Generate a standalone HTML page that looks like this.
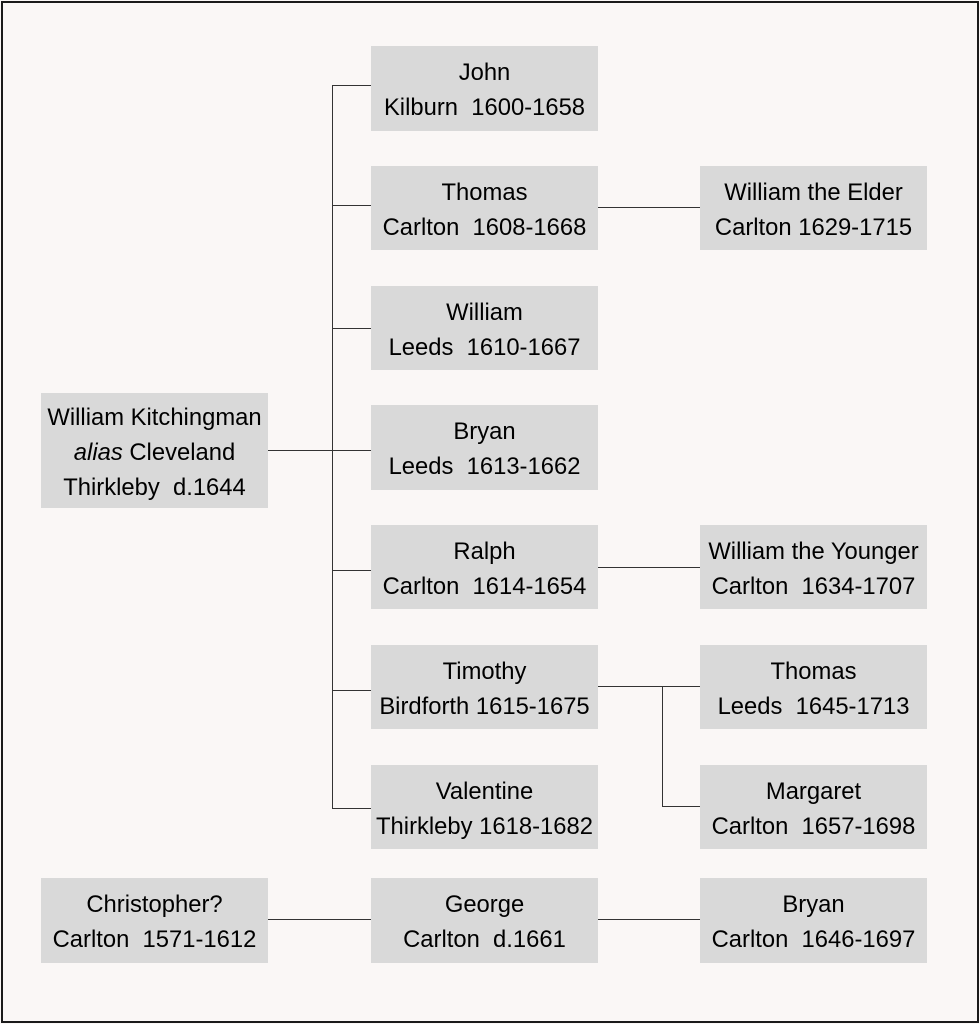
<!DOCTYPE html>
<html><head><style>
html,body{margin:0;padding:0;}
body{width:980px;height:1024px;position:relative;background:#faf7f6;overflow:hidden;font-family:"Liberation Sans",Arial,sans-serif;}
.frame{position:absolute;left:1px;top:1px;width:974px;height:1018px;border:2px solid #1a1a1a;}
.b{position:absolute;background:#d9d9d9;display:flex;flex-direction:column;justify-content:center;align-items:center;font-size:23.8px;line-height:35px;color:#000;white-space:pre;text-align:center;box-sizing:border-box;padding-top:3px;}
.h{position:absolute;height:1px;background:#333;}
.v{position:absolute;width:1px;background:#333;}
</style></head><body>
<div class="frame"></div>
<div class="v" style="left:332px;top:85px;height:724px"></div>
<div class="h" style="left:332px;top:85px;width:39px"></div>
<div class="h" style="left:332px;top:205px;width:39px"></div>
<div class="h" style="left:332px;top:328px;width:39px"></div>
<div class="h" style="left:267px;top:450px;width:104px"></div>
<div class="h" style="left:332px;top:570px;width:39px"></div>
<div class="h" style="left:332px;top:690px;width:39px"></div>
<div class="h" style="left:332px;top:808px;width:39px"></div>
<div class="h" style="left:597px;top:207px;width:103px"></div>
<div class="h" style="left:597px;top:567px;width:103px"></div>
<div class="h" style="left:597px;top:686px;width:103px"></div>
<div class="v" style="left:662px;top:686px;height:121px"></div>
<div class="h" style="left:662px;top:806px;width:38px"></div>
<div class="h" style="left:267px;top:919px;width:104px"></div>
<div class="h" style="left:597px;top:919px;width:103px"></div>

<div class="b" style="left:41px;top:393px;width:227px;height:115px"><div>William Kitchingman</div><div><i>alias</i> Cleveland</div><div>Thirkleby  d.1644</div></div>
<div class="b" style="left:371px;top:46px;width:227px;height:85px"><div>John</div><div>Kilburn  1600-1658</div></div>
<div class="b" style="left:371px;top:166px;width:227px;height:84px"><div>Thomas</div><div>Carlton  1608-1668</div></div>
<div class="b" style="left:371px;top:286px;width:227px;height:84px"><div>William</div><div>Leeds  1610-1667</div></div>
<div class="b" style="left:371px;top:405px;width:227px;height:85px"><div>Bryan</div><div>Leeds  1613-1662</div></div>
<div class="b" style="left:371px;top:525px;width:227px;height:84px"><div>Ralph</div><div>Carlton  1614-1654</div></div>
<div class="b" style="left:371px;top:645px;width:227px;height:84px"><div>Timothy</div><div>Birdforth 1615-1675</div></div>
<div class="b" style="left:371px;top:765px;width:227px;height:84px"><div>Valentine</div><div>Thirkleby 1618-1682</div></div>
<div class="b" style="left:700px;top:166px;width:227px;height:84px"><div>William the Elder</div><div>Carlton 1629-1715</div></div>
<div class="b" style="left:700px;top:525px;width:227px;height:84px"><div>William the Younger</div><div>Carlton  1634-1707</div></div>
<div class="b" style="left:700px;top:645px;width:227px;height:84px"><div>Thomas</div><div>Leeds  1645-1713</div></div>
<div class="b" style="left:700px;top:765px;width:227px;height:84px"><div>Margaret</div><div>Carlton  1657-1698</div></div>
<div class="b" style="left:41px;top:878px;width:227px;height:85px"><div>Christopher?</div><div>Carlton  1571-1612</div></div>
<div class="b" style="left:371px;top:878px;width:227px;height:85px"><div>George</div><div>Carlton  d.1661</div></div>
<div class="b" style="left:700px;top:878px;width:227px;height:85px"><div>Bryan</div><div>Carlton  1646-1697</div></div>
</body></html>
